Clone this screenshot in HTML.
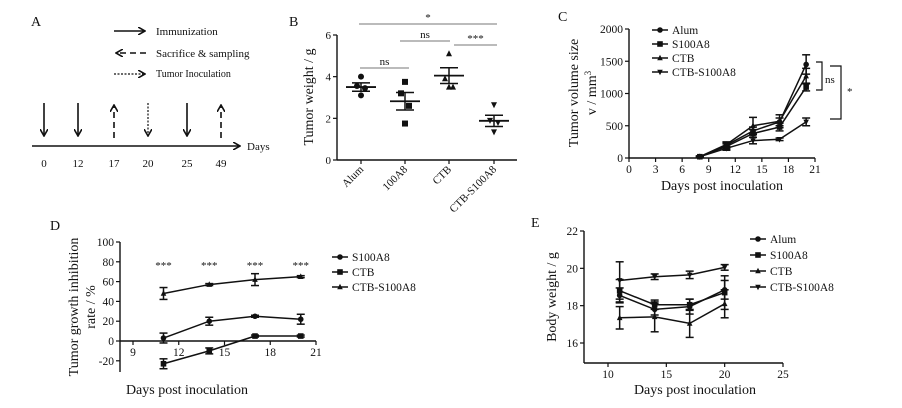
<!DOCTYPE html>
<html><head><meta charset="utf-8">
<style>
body{margin:0;background:#fff;}
svg{display:block;font-family:"Liberation Serif",serif;}
text{fill:#111;}
</style></head>
<body>
<svg id="fig" width="902" height="408" viewBox="0 0 902 408" xmlns="http://www.w3.org/2000/svg">
<defs>
<marker id="ah" markerWidth="8" markerHeight="8" refX="7" refY="4" orient="auto" markerUnits="userSpaceOnUse"><path d="M0,0 L7,4 L0,8" fill="none" stroke="#111" stroke-width="1.6"/></marker>
</defs>
<g id="panelA">
<text x="31" y="26" font-size="14">A</text>
<line x1="114" y1="31" x2="145" y2="31" stroke="#111" stroke-width="1.6" marker-end="url(#ah)"/>
<text x="156" y="35" font-size="11">Immunization</text>
<line x1="146" y1="53" x2="116" y2="53" stroke="#111" stroke-width="1.6" stroke-dasharray="6,4" marker-end="url(#ah)"/>
<text x="156" y="57" font-size="11">Sacrifice &amp; sampling</text>
<line x1="114" y1="74" x2="145" y2="74" stroke="#111" stroke-width="1.2" stroke-dasharray="2,1.5" marker-end="url(#ah)"/>
<text x="156" y="77" font-size="10">Tumor Inoculation</text>
<line x1="32" y1="146" x2="240" y2="146" stroke="#111" stroke-width="1.6" marker-end="url(#ah)"/>
<text x="247" y="150" font-size="11">Days</text>
</g>
<g id="panelB"></g>
<g id="panelC"></g>
<g id="panelD"></g>
<g id="panelE"></g>
</svg>
<script>
const NS="http://www.w3.org/2000/svg";
// Panel A data
const timelineDays=["0","12","17","20","25","49"];
const timelineTypes=["imm","imm","sac","inoc","imm","sac"];
// Panel B data
const bCats=["Alum","100A8","CTB","CTB-S100A8"];
const bPoints=[[4.0,3.55,3.45,3.1],[3.75,3.2,2.6,1.75],[5.1,3.9,3.5,3.5],[2.65,1.9,1.8,1.35]];
const bMeans=[3.5,2.82,4.05,1.88];
const bSems=[0.2,0.42,0.38,0.27];
const bTicks=[0,2,4,6];
// Panel C data
const cDays=[8,11,14,17,20];
const cSeries=["Alum","S100A8","CTB","CTB-S100A8"];
const cAlum=[20,200,420,560,1450];
const cS100=[20,180,380,480,1100];
const cCTB=[20,210,500,570,1270];
const cCS=[20,150,270,290,560];
const cAlumErr=[10,40,60,60,150];
const cS100Err=[10,40,60,60,60];
const cCTBErr=[10,40,130,100,120];
const cCSErr=[10,30,50,20,60];
const cXTicks=[0,3,6,9,12,15,18,21];
const cYTicks=[0,500,1000,1500,2000];
// Panel D data
const dDays=[11,14,17,20];
const dSeries=["S100A8","CTB","CTB-S100A8"];
const dS100=[3,20,25,22];
const dCTB=[-23,-10,5,5];
const dCS=[48,57,62,65];
const dS100Err=[5,4,1,5];
const dCTBErr=[5,3,1,1];
const dCSErr=[6,1,6,1];
const dXTicks=[9,12,15,18,21];
const dYTicks=[-20,0,20,40,60,80,100];
// Panel E data
const eDays=[11,14,17,20];
const eSeries=["Alum","S100A8","CTB","CTB-S100A8"];
const eAlum=[18.55,17.8,17.95,18.85];
const eS100=[18.8,18.05,18.05,18.7];
const eCTB=[17.35,17.4,17.05,18.1];
const eCS=[19.35,19.55,19.65,20.05];
const eAlumErr=[0.4,0.3,0.4,0.5];
const eS100Err=[0.6,0.25,0.3,0.9];
const eCTBErr=[0.6,0.8,0.75,0.75];
const eCSErr=[1.0,0.15,0.2,0.15];
const eXTicks=[10,15,20,25];
const eYTicks=[16,18,20,22];

function mk(parent,tag,attrs,txt){const e=document.createElementNS(NS,tag);for(const k in attrs)e.setAttribute(k,attrs[k]);if(txt!==undefined)e.textContent=txt;parent.appendChild(e);return e;}
function lin(d0,d1,p0,p1){return v=>p0+(v-d0)*(p1-p0)/(d1-d0);}
function marker(g,type,x,y,s){
  s=s||3;
  if(type==="circle")return mk(g,"circle",{cx:x,cy:y,r:s,fill:"#111"});
  if(type==="square")return mk(g,"rect",{x:x-s,y:y-s,width:2*s,height:2*s,fill:"#111"});
  if(type==="tri")return mk(g,"path",{d:`M${x},${y-s-0.5}L${x+s},${y+s-0.5}L${x-s},${y+s-0.5}Z`,fill:"#111"});
  return mk(g,"path",{d:`M${x},${y+s+0.5}L${x+s},${y-s+0.5}L${x-s},${y-s+0.5}Z`,fill:"#111"});
}
const types=["circle","square","tri","dtri"];

// ---- Panel A
(function(){
  const g=document.getElementById("panelA");
  const xs=[44,78,114,148,187,221];
  timelineDays.forEach((d,i)=>{
    const x=xs[i];const t=timelineTypes[i];
    let l;
    if(t==="imm"){l=mk(g,"line",{x1:x,y1:103,x2:x,y2:136,stroke:"#111","stroke-width":1.6,"marker-end":"url(#ah)"});}
    else if(t==="sac"){l=mk(g,"line",{x1:x,y1:138,x2:x,y2:105,stroke:"#111","stroke-width":1.6,"stroke-dasharray":"6,4","marker-end":"url(#ah)"});}
    else {l=mk(g,"line",{x1:x,y1:103,x2:x,y2:136,stroke:"#111","stroke-width":1.2,"stroke-dasharray":"2,1.5","marker-end":"url(#ah)"});}
    
    
    const tx=mk(g,"text",{x:x,y:167,"font-size":11,"text-anchor":"middle"},d);
    
    
  });
})();

// ---- Panel B
(function(){
  const g=document.getElementById("panelB");
  const y=lin(0,6,160,35);const xs=[361,405,449,494];
  mk(g,"text",{x:289,y:26,"font-size":14},"B");
  mk(g,"line",{x1:337,y1:35,x2:337,y2:160,stroke:"#111","stroke-width":1.4});
  mk(g,"line",{x1:337,y1:160,x2:517,y2:160,stroke:"#111","stroke-width":1.4});
  bTicks.forEach(t=>{mk(g,"line",{x1:333,y1:y(t),x2:337,y2:y(t),stroke:"#111","stroke-width":1.2});
    const tx=mk(g,"text",{x:331,y:y(t)+4,"font-size":11,"text-anchor":"end"},t);
    
    });
  const yl=mk(g,"text",{x:0,y:0,"font-size":14,"text-anchor":"middle",transform:"translate(313,97) rotate(-90)"},"Tumor weight / g");
  
  
  bCats.forEach((c,i)=>{
    const x=xs[i];
    mk(g,"line",{x1:x,y1:160,x2:x,y2:164,stroke:"#111","stroke-width":1.2});
    const tx=mk(g,"text",{x:0,y:0,"font-size":11,"text-anchor":"end",transform:`translate(${x+3},${170}) rotate(-45)`},c);
    
    
    bPoints[i].forEach((v,j)=>{const dx=[0,-4,4,0][j];const m=marker(g,types[i],x+dx,y(v),3);
      
      });
    const m=bMeans[i],s=bSems[i];
    const ml=mk(g,"line",{x1:x-15,y1:y(m),x2:x+15,y2:y(m),stroke:"#111","stroke-width":1.8});
    
    
    mk(g,"line",{x1:x,y1:y(m+s),x2:x,y2:y(m-s),stroke:"#111","stroke-width":1.5});
    mk(g,"line",{x1:x-9,y1:y(m+s),x2:x+9,y2:y(m+s),stroke:"#111","stroke-width":1.5});
    mk(g,"line",{x1:x-9,y1:y(m-s),x2:x+9,y2:y(m-s),stroke:"#111","stroke-width":1.5});
  });
  const sig=[[359,497,24,"*"],[400,450,41,"ns"],[454,497,45,"***"],[360,409,68,"ns"]];
  sig.forEach(s=>{mk(g,"line",{x1:s[0],y1:s[2],x2:s[1],y2:s[2],stroke:"#777","stroke-width":1});
    const tx=mk(g,"text",{x:(s[0]+s[1])/2,y:s[2]-3,"font-size":11,"text-anchor":"middle"},s[3]);
    
    });
})();

function lineChart(g,opt){
  const x=lin(opt.xd[0],opt.xd[1],opt.xp[0],opt.xp[1]);
  const y=lin(opt.yd[0],opt.yd[1],opt.yp[0],opt.yp[1]);
  mk(g,"line",{x1:opt.ax,y1:opt.yAxisTop,x2:opt.ax,y2:opt.yAxisBot,stroke:"#111","stroke-width":1.4});
  mk(g,"line",{x1:opt.xAxisL,y1:opt.ay,x2:opt.xAxisR,y2:opt.ay,stroke:"#111","stroke-width":1.4});
  opt.xt.forEach(t=>{mk(g,"line",{x1:x(t),y1:opt.ay,x2:x(t),y2:opt.ay+4,stroke:"#111","stroke-width":1.2});
    const tx=mk(g,"text",{x:x(t),y:opt.ay+15,"font-size":11.5,"text-anchor":"middle"},t);
    
    });
  opt.yt.forEach(t=>{mk(g,"line",{x1:opt.ax-4,y1:y(t),x2:opt.ax,y2:y(t),stroke:"#111","stroke-width":1.2});
    const tx=mk(g,"text",{x:opt.ax-6,y:y(t)+4,"font-size":11.5,"text-anchor":"end"},t);
    
    });
  opt.series.forEach((s,k)=>{
    const pts=opt.xs.map((d,i)=>x(d)+","+y(s[i])).join(" ");
    const pl=mk(g,"polyline",{points:pts,fill:"none",stroke:"#111","stroke-width":1.5});
    
    
    opt.xs.forEach((d,i)=>{
      const e=opt.errs[k][i];const px=x(d);
      mk(g,"line",{x1:px,y1:y(s[i]+e),x2:px,y2:y(s[i]-e),stroke:"#111","stroke-width":1.5});
      mk(g,"line",{x1:px-4,y1:y(s[i]+e),x2:px+4,y2:y(s[i]+e),stroke:"#111","stroke-width":1.5});
      mk(g,"line",{x1:px-4,y1:y(s[i]-e),x2:px+4,y2:y(s[i]-e),stroke:"#111","stroke-width":1.5});
      const m=marker(g,opt.types[k],px,y(s[i]),2.8);
      
      
    });
  });
  opt.names.forEach((n,k)=>{
    const ly=opt.leg[1]+k*opt.leg[2];
    mk(g,"line",{x1:opt.leg[0],y1:ly,x2:opt.leg[0]+16,y2:ly,stroke:"#111","stroke-width":1.5});
    marker(g,opt.types[k],opt.leg[0]+8,ly,2.8);
    const tx=mk(g,"text",{x:opt.leg[0]+20,y:ly+4,"font-size":11.5},n);
    
    
  });
  return {x,y};
}

// ---- Panel C
(function(){
  const g=document.getElementById("panelC");
  mk(g,"text",{x:558,y:21,"font-size":14},"C");
  lineChart(g,{xd:[0,21],xp:[629,815],yd:[0,2000],yp:[158,29],ax:629,ay:158,yAxisTop:29,yAxisBot:158,xAxisL:629,xAxisR:815,
    xt:cXTicks,yt:cYTicks,xs:cDays,series:[cAlum,cS100,cCTB,cCS],errs:[cAlumErr,cS100Err,cCTBErr,cCSErr],
    names:cSeries,types:types,leg:[652,30,14]});
  const t1=mk(g,"text",{x:0,y:0,"font-size":14,"text-anchor":"middle",transform:"translate(578,93) rotate(-90)"},"Tumor volume size");
  
  
  const t2=mk(g,"text",{x:0,y:0,"font-size":14,"text-anchor":"middle",transform:"translate(596,93) rotate(-90)"});
  t2.innerHTML='v / mm<tspan dy="-5" font-size="9">3</tspan>';
  
  
  const xl=mk(g,"text",{x:722,y:190,"font-size":14,"text-anchor":"middle"},"Days post inoculation");
  
  
  mk(g,"path",{d:"M816,62H822V90H816",fill:"none",stroke:"#111","stroke-width":1.2});
  mk(g,"text",{x:825,y:83,"font-size":11},"ns");
  mk(g,"path",{d:"M830,66H841V119H830",fill:"none",stroke:"#111","stroke-width":1.2});
  mk(g,"text",{x:847,y:95,"font-size":11},"*");
})();

// ---- Panel D
(function(){
  const g=document.getElementById("panelD");
  mk(g,"text",{x:50,y:230,"font-size":14},"D");
  const sc=lineChart(g,{xd:[9,21],xp:[133,316],yd:[0,100],yp:[341,242],ax:120,ay:341,yAxisTop:242,yAxisBot:372,xAxisL:120,xAxisR:316,
    xt:dXTicks,yt:dYTicks,xs:dDays,series:[dS100,dCTB,dCS],errs:[dS100Err,dCTBErr,dCSErr],
    names:dSeries,types:["circle","square","tri"],leg:[332,257,15]});
  dDays.forEach(d=>{const tx=mk(g,"text",{x:sc.x(d),y:269,"font-size":11,"text-anchor":"middle"},"***");
    
    });
  const t1=mk(g,"text",{x:0,y:0,"font-size":14,"text-anchor":"middle",transform:"translate(78,307) rotate(-90)"},"Tumor growth inhibition");
  
  
  const t2=mk(g,"text",{x:0,y:0,"font-size":14,"text-anchor":"middle",transform:"translate(95,307) rotate(-90)"},"rate / %");
  
  
  const xl=mk(g,"text",{x:187,y:394,"font-size":14,"text-anchor":"middle"},"Days post inoculation");
  
  
})();

// ---- Panel E
(function(){
  const g=document.getElementById("panelE");
  mk(g,"text",{x:531,y:227,"font-size":14},"E");
  lineChart(g,{xd:[10,25],xp:[608,783],yd:[16,22],yp:[343,231],ax:584,ay:363,yAxisTop:231,yAxisBot:363,xAxisL:584,xAxisR:783,
    xt:eXTicks,yt:eYTicks,xs:eDays,series:[eAlum,eS100,eCTB,eCS],errs:[eAlumErr,eS100Err,eCTBErr,eCSErr],
    names:eSeries,types:types,leg:[750,239,16]});
  const t1=mk(g,"text",{x:0,y:0,"font-size":14,"text-anchor":"middle",transform:"translate(556,297) rotate(-90)"},"Body weight / g");
  
  
  const xl=mk(g,"text",{x:695,y:394,"font-size":14,"text-anchor":"middle"},"Days post inoculation");
  
  
})();
</script>
</body></html>
